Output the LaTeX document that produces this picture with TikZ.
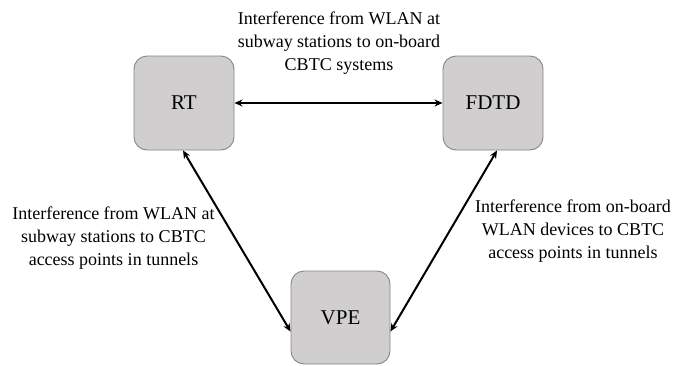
\documentclass[tikz,border=0pt]{standalone}
\usepackage{fontspec}
\setmainfont{Liberation Serif}
\usetikzlibrary{arrows.meta}
\definecolor{boxfill}{HTML}{D0CECE}
\definecolor{boxline}{HTML}{868686}
\begin{document}
\begin{tikzpicture}[x=1pt,y=-1pt,
  simbox/.style={draw=boxline, line width=0.9pt, fill=boxfill, rounded corners=13pt,
    minimum width=100pt, minimum height=94pt, inner sep=0pt,
    font=\fontsize{21}{25}\selectfont},
  lbl/.style={align=center, inner sep=0pt, font=\fontsize{18}{23}\selectfont},
  link/.style={line width=2pt, {Stealth[length=8pt,width=7pt]}-{Stealth[length=8pt,width=7pt]}}]
\useasboundingbox (0,0) rectangle (696,365);
\node[simbox] (RT) at (184,103) {RT};
\node[simbox] (FDTD) at (493,103) {FDTD};
\node[simbox, minimum width=99pt, minimum height=93pt] (VPE) at (340.5,317.5) {VPE};
\draw[link] (RT.east) -- (FDTD.west);
\draw[link] ([xshift=-1pt]RT.south) -- ([yshift=-14pt]VPE.west);
\draw[link] ([xshift=4pt]FDTD.south) -- ([yshift=-14pt]VPE.east);
\node[lbl] (top) at (339,43) {Interference from WLAN at\\subway stations to on-board\\CBTC systems};
\node[lbl] (left) at (113.5,238) {Interference from WLAN at\\subway stations to CBTC\\access points in tunnels};
\node[lbl] (right) at (573,231) {Interference from on-board\\WLAN devices to CBTC\\access points in tunnels};
\end{tikzpicture}
\end{document}
